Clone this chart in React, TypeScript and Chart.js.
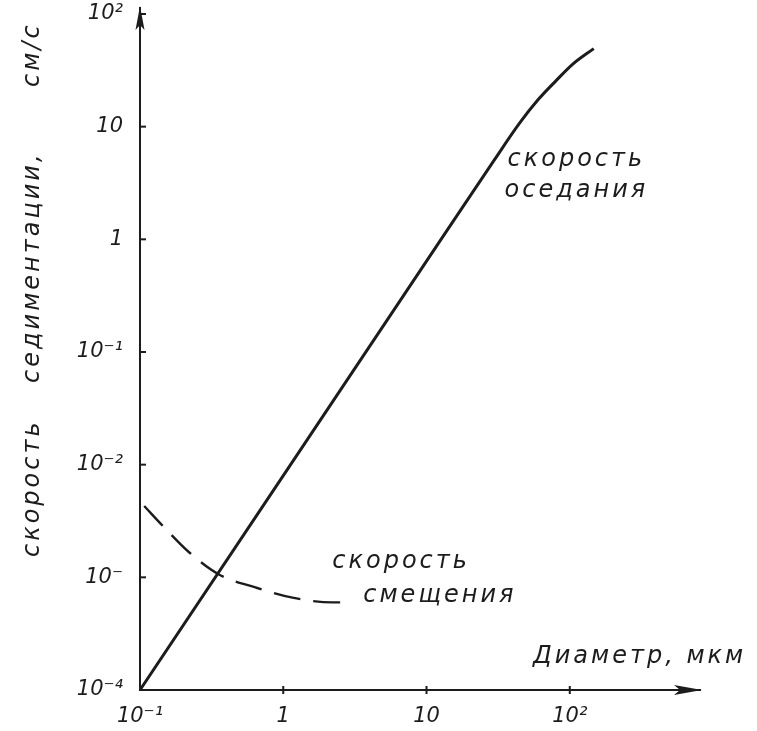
import { useEffect, useRef } from "react";
import { Chart, registerables } from "chart.js";

Chart.register(...registerables);

// ---- data ----
const xTicks = [0.1, 1, 10, 100];
const xTickLabels = ["10⁻¹", "1", "10", "10²"];
const yTicks = [1e-4, 1e-3, 1e-2, 1e-1, 1, 10, 100];
const yTickLabels = ["10⁻⁴", "10⁻", "10⁻²", "10⁻¹", "1", "10", "10²"];

const settlingDiameter = [0.1, 1, 10, 30, 45, 60, 80, 105, 147];
const settlingSpeed = [1e-4, 0.008, 0.64, 5.15, 10.9, 17.3, 25.5, 35.9, 49.3];

const driftDiameter = [0.107, 0.147, 0.22, 0.356, 0.647, 1.16, 2.2, 2.67];
const driftSpeed = [4.3e-3, 2.79e-3, 1.67e-3, 1.06e-3, 8.1e-4, 6.6e-4, 6.0e-4, 6.0e-4];

const yTitleWords = ["скорость", "седиментации,", "см/с"];
const xTitle = "Диаметр, мкм";
const settlingLabel = ["скорость", "оседания"];
const driftLabel = ["скорость", "смещения"];

const INK = "#1c1c1c";
const FONT = '"DejaVu Sans", sans-serif';

const handPlugin = {
  id: "hand",
  afterDraw(chart: any) {
    const { ctx, chartArea } = chart;
    const xs = chart.scales.x;
    const ys = chart.scales.y;
    const x0 = chartArea.left;
    const y0 = chartArea.bottom;
    ctx.save();
    ctx.strokeStyle = INK;
    ctx.fillStyle = INK;
    ctx.lineWidth = 2;

    // tick marks
    yTicks.forEach((v, i) => {
      if (i === 0) return;
      const py = ys.getPixelForValue(v);
      ctx.beginPath();
      ctx.moveTo(x0 - 1, py);
      ctx.lineTo(x0 + 6, py);
      ctx.stroke();
    });
    xTicks.forEach((v, i) => {
      if (i === 0) return;
      const px = xs.getPixelForValue(v);
      ctx.beginPath();
      ctx.moveTo(px, y0 - 4);
      ctx.lineTo(px, y0 + 4);
      ctx.stroke();
    });

    // arrows
    const top = chartArea.top;
    ctx.beginPath();
    ctx.moveTo(x0, top - 2);
    ctx.lineTo(x0 - 4.5, top + 22);
    ctx.lineTo(x0, top + 17);
    ctx.lineTo(x0 + 4.5, top + 22);
    ctx.closePath();
    ctx.fill();
    const right = chartArea.right;
    ctx.beginPath();
    ctx.moveTo(right + 2, y0);
    ctx.lineTo(right - 26, y0 - 5);
    ctx.lineTo(right - 20, y0);
    ctx.lineTo(right - 26, y0 + 5);
    ctx.closePath();
    ctx.fill();

    // texts
    ctx.textBaseline = "middle";
    ctx.textAlign = "left";
    ctx.font = `oblique 24px ${FONT}`;
    (ctx as any).letterSpacing = "3px";

    // y title (rotated)
    ctx.save();
    ctx.translate(33, 0);
    ctx.rotate(-Math.PI / 2);
    const starts = [557, 383, 87];
    yTitleWords.forEach((w, i) => ctx.fillText(w, -starts[i], 0));
    ctx.restore();

    // x title
    ctx.fillText(xTitle, 533, 657);

    // annotations anchored to data space
    const sx = xs.getPixelForValue(36.8);
    const sy = ys.getPixelForValue(5.05);
    ctx.fillText(settlingLabel[0], sx, sy);
    ctx.fillText(settlingLabel[1], sx - 3, sy + 31);

    const dx = xs.getPixelForValue(2.2);
    const dy = ys.getPixelForValue(1.37e-3);
    ctx.fillText(driftLabel[0], dx, dy);
    ctx.fillText(driftLabel[1], dx + 31, dy + 34);

    ctx.restore();
  },
};

export default function App() {
  const ref = useRef<HTMLCanvasElement | null>(null);
  useEffect(() => {
    if (!ref.current) return;
    const chart = new Chart(ref.current, {
      type: "line",
      data: {
        datasets: [
          {
            label: "скорость оседания",
            data: settlingDiameter.map((d, i) => ({ x: d, y: settlingSpeed[i] })),
            borderColor: INK,
            borderWidth: 3,
            pointRadius: 0,
            cubicInterpolationMode: "monotone",
            fill: false,
            clip: false,
          } as any,
          {
            label: "скорость смещения",
            data: driftDiameter.map((d, i) => ({ x: d, y: driftSpeed[i] })),
            borderColor: INK,
            borderWidth: 2.4,
            borderDash: [27, 13],
            pointRadius: 0,
            cubicInterpolationMode: "monotone",
            fill: false,
            clip: false,
          } as any,
        ],
      },
      options: {
        animation: false,
        responsive: false,
        layout: { padding: { left: 0, right: 57, top: 8, bottom: 0 } },
        plugins: { legend: { display: false }, tooltip: { enabled: false } },
        scales: {
          x: {
            type: "logarithmic",
            min: 0.1,
            max: 811,
            grid: { display: false, drawTicks: false, tickLength: 0 },
            border: { display: true, color: INK, width: 2 },
            afterBuildTicks: (s: any) => {
              s.ticks = xTicks.map((v) => ({ value: v }));
            },
            afterFit: (s: any) => {
              s.height = 41;
              s.paddingLeft = 0;
              s.paddingRight = 0;
            },
            ticks: {
              autoSkip: false,
              maxRotation: 0,
              padding: 14,
              color: INK,
              font: { family: FONT, size: 21, style: "oblique" as any },
              callback: (_v: any, i: number) => xTickLabels[i],
            },
          },
          y: {
            type: "logarithmic",
            min: 1e-4,
            max: 113,
            grid: { display: false, drawTicks: false, tickLength: 0 },
            border: { display: true, color: INK, width: 2 },
            afterBuildTicks: (s: any) => {
              s.ticks = yTicks.map((v) => ({ value: v }));
            },
            afterFit: (s: any) => {
              s.width = 140;
              s.paddingTop = 0;
              s.paddingBottom = 0;
            },
            ticks: {
              autoSkip: false,
              padding: 17,
              color: INK,
              font: { family: FONT, size: 21, style: "oblique" as any },
              callback: (_v: any, i: number) => yTickLabels[i],
            },
          },
        },
      } as any,
      plugins: [handPlugin],
    });
    return () => chart.destroy();
  }, []);
  return (
    <canvas
      ref={ref}
      width={757}
      height={731}
      style={{ position: "fixed", left: 0, top: 0, width: 757, height: 731, background: "#fff" }}
    />
  );
}
